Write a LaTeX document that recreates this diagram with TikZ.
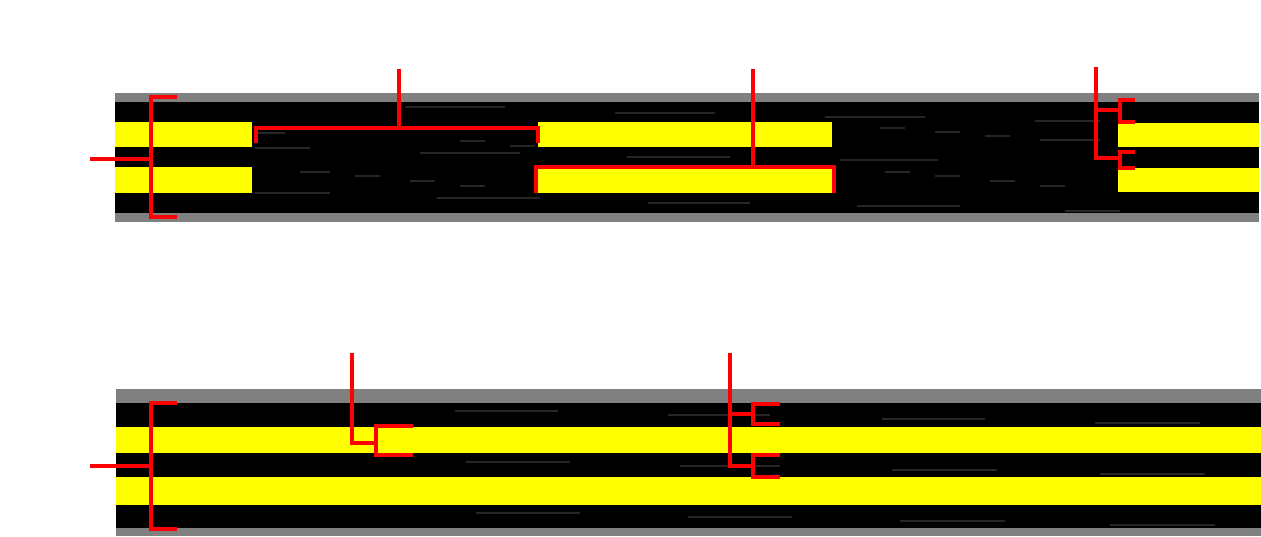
\documentclass[tikz,border=0pt]{standalone}
\definecolor{fy}{RGB}{255,255,0}
\definecolor{fr}{RGB}{255,0,0}
\begin{document}
\begin{tikzpicture}[x=1pt,y=-1pt,
  band/.style={fill=black!50,draw=none},
  core/.style={fill=black,draw=none},
  fiber/.style={fill=fy,draw=none},
  streak/.style={draw=black!85,line width=2.5pt},
  marker/.style={draw=fr,line width=4pt,line cap=butt,line join=miter}]
\useasboundingbox (0,0) rectangle (1261,536);
\fill[white] (0,0) rectangle (1261,536);
% ---------- top band ----------
\path[band] (115,93) rectangle (1259,222);
\path[core] (115,102) rectangle (1259,213);
\foreach \a/\b/\y in {405/505/107,615/715/113,825/925/117,1035/1100/121,
  255/310/148,420/520/153,627/730/157,840/938/160,1040/1100/140,
  255/330/193,437/540/198,648/750/203,857/960/206,1065/1120/211,
  300/330/172,355/380/176,410/435/181,460/485/186,
  880/905/128,935/960/132,985/1010/136,885/910/172,935/960/176,990/1015/181,1040/1065/186,
  255/285/133,460/485/141,510/535/146}
  \draw[streak] (\a,\y) -- (\b,\y);
\path[fiber] (115,122) rectangle (252,147);
\path[fiber] (115,167) rectangle (252,193);
\path[fiber] (538,122) rectangle (832,147);
\path[fiber] (538,167) rectangle (832,193);
\path[fiber] (1118,123) rectangle (1259,147);
\path[fiber] (1118,168) rectangle (1259,192);
% ---------- bottom band ----------
\path[band] (116,389) rectangle (1261,536);
\path[core] (116,403) rectangle (1261,528);
\foreach \a/\b/\y in {455/558/411,668/770/415,882/985/419,1095/1200/423,
  466/570/462,680/780/466,892/997/470,1100/1205/474,
  476/580/513,688/792/517,900/1005/521,1110/1215/525}
  \draw[streak] (\a,\y) -- (\b,\y);
\path[fiber] (116,427) rectangle (1261,453);
\path[fiber] (116,477) rectangle (1261,505);
% ---------- top markers ----------
\coordinate (tl1) at (177,97);
\coordinate (tl2) at (177,217);
\coordinate (tlead) at (90,159);
\draw[marker] (tl1) -- (151,97) -- (151,217) -- (tl2);
\draw[marker] (tlead) -- (151,159);
\coordinate (g1a) at (256,143);
\coordinate (g1b) at (538,143);
\draw[marker] (g1a) -- (256,128) -- (538,128) -- (g1b);
\draw[marker] (399,69) -- (399,128);
\coordinate (g2a) at (536,193);
\coordinate (g2b) at (834,193);
\draw[marker] (g2a) -- (536,167) -- (834,167) -- (g2b);
\draw[marker] (753,69) -- (753,167);
\draw[marker] (1096,67) -- (1096,158) -- (1120,158);
\draw[marker] (1096,110) -- (1120,110);
\draw[marker] (1135,100) -- (1120,100) -- (1120,122) -- (1135,122);
\draw[marker] (1135,152) -- (1120,152) -- (1120,168) -- (1135,168);
% ---------- bottom markers ----------
\draw[marker] (177,403) -- (151,403) -- (151,529) -- (177,529);
\draw[marker] (90,466) -- (151,466);
\draw[marker] (352,353) -- (352,443) -- (376,443);
\draw[marker] (413,426) -- (376,426) -- (376,455) -- (413,455);
\draw[marker] (730,353) -- (730,466) -- (753,466);
\draw[marker] (730,414) -- (753,414);
\draw[marker] (780,404) -- (753,404) -- (753,424) -- (780,424);
\draw[marker] (780,455) -- (753,455) -- (753,477) -- (780,477);
\end{tikzpicture}
\end{document}
